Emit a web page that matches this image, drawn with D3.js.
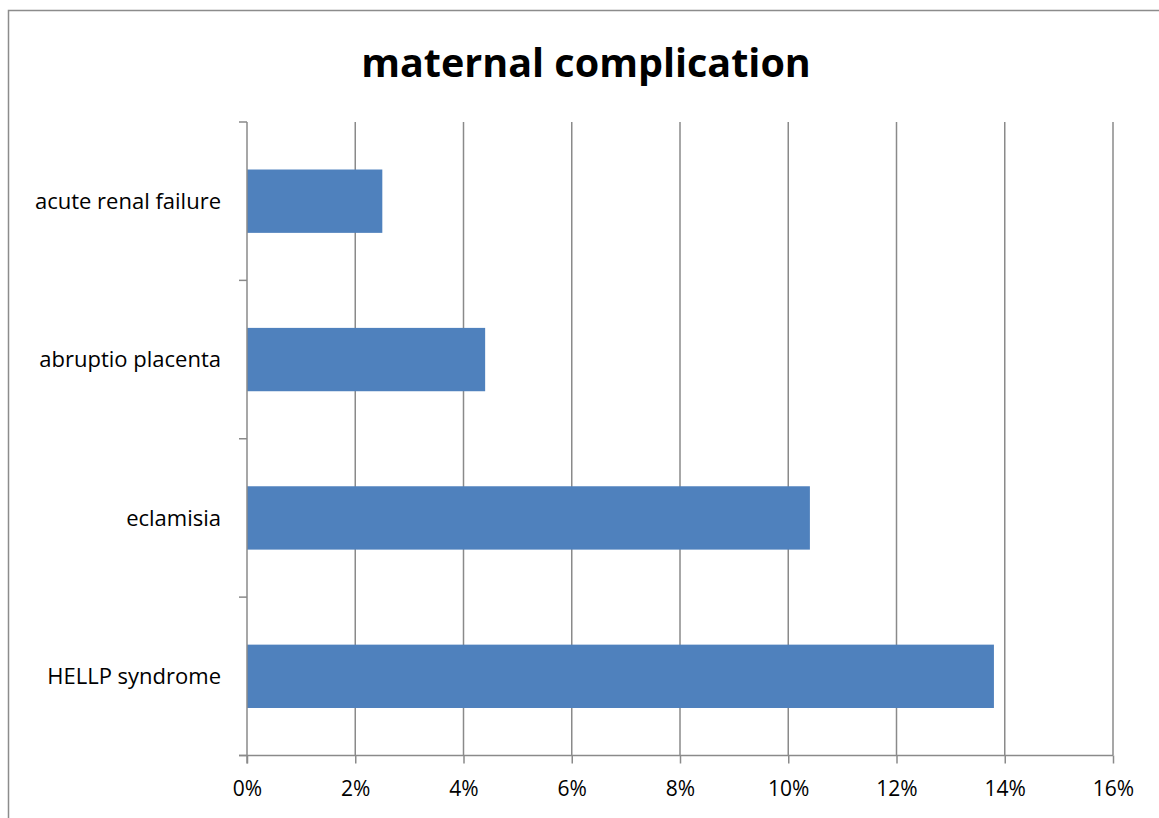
<!DOCTYPE html>
<html>
<head>
<meta charset="utf-8">
<script src="https://cdn.jsdelivr.net/npm/d3@7"></script>
<style>
  body { margin: 0; background: #fff; }
  svg { display: block; font-family: "Open Sans", "Noto Sans", sans-serif; }
</style>
</head>
<body>
<div id="chart"></div>
<script>
const categories = ["acute renal failure", "abruptio placenta", "eclamisia", "HELLP syndrome"];
const values = [2.5, 4.4, 10.4, 13.8];
const tickValues = [0, 2, 4, 6, 8, 10, 12, 14, 16];

const width = 1159;
const height = 818;
const plotLeft = 247, plotRight = 1113, plotTop = 122, plotBottom = 755.5;

const svg = d3.select("#chart").append("svg")
  .attr("width", width)
  .attr("height", height);

// outer frame (right/bottom run off the picture)
svg.append("rect")
  .attr("x", 8.5).attr("y", 10.5)
  .attr("width", 1200).attr("height", 900)
  .attr("fill", "none")
  .attr("stroke", "#8c8c8c")
  .attr("stroke-width", 1.5);

svg.append("text")
  .attr("x", 586).attr("y", 77)
  .attr("text-anchor", "middle")
  .attr("font-size", 39.5)
  .attr("font-weight", "bold")
  .attr("fill", "#000")
  .text("maternal complication");

const x = d3.scaleLinear().domain([0, 16]).range([plotLeft, plotRight]);
const y = d3.scaleBand().domain(categories).range([plotTop, plotBottom])
  .paddingInner(0.6).paddingOuter(0.3);

// gridlines
svg.append("g")
  .selectAll("line")
  .data(tickValues.slice(1))
  .join("line")
  .attr("x1", d => x(d)).attr("x2", d => x(d))
  .attr("y1", plotTop).attr("y2", plotBottom)
  .attr("stroke", "#8a8a8a")
  .attr("stroke-width", 1.5);

// bars
svg.append("g")
  .selectAll("rect")
  .data(categories)
  .join("rect")
  .attr("x", x(0))
  .attr("y", d => y(d))
  .attr("width", (d, i) => x(values[i]) - x(0))
  .attr("height", y.bandwidth())
  .attr("fill", "#4f81bd");

// x axis
const xAxis = svg.append("g")
  .attr("transform", `translate(0,${plotBottom})`)
  .call(d3.axisBottom(x).tickValues(tickValues).tickFormat(d => d + "%").tickSize(8).tickPadding(18))
  .call(g => g.select(".domain").attr("d", `M${plotLeft - 8},0H${plotRight}`));
xAxis.selectAll("path, line").attr("stroke", "#8a8a8a").attr("stroke-width", 1.5);
xAxis.selectAll("text").attr("font-size", 21).attr("fill", "#000").attr("font-family", "Open Sans, Noto Sans, sans-serif");

// y axis: ticks between categories
const yTicks = [plotTop, ...categories.map(c => y(c) + y.bandwidth() + y.step() * 0.3)];
const yAxis = svg.append("g");
yAxis.append("line")
  .attr("x1", plotLeft).attr("x2", plotLeft)
  .attr("y1", plotTop).attr("y2", plotBottom + 8)
  .attr("stroke", "#8a8a8a").attr("stroke-width", 1.5);
yAxis.selectAll("line.tick")
  .data(yTicks)
  .join("line")
  .attr("class", "tick")
  .attr("x1", plotLeft - 8).attr("x2", plotLeft)
  .attr("y1", d => d).attr("y2", d => d)
  .attr("stroke", "#8a8a8a").attr("stroke-width", 1.5);
yAxis.selectAll("text.label")
  .data(categories)
  .join("text")
  .attr("class", "label")
  .attr("x", 221)
  .attr("y", d => y(d) + y.bandwidth() / 2)
  .attr("dy", "0.35em")
  .attr("text-anchor", "end")
  .attr("font-size", 22)
  .attr("fill", "#000")
  .text(d => d);
</script>
</body>
</html>
